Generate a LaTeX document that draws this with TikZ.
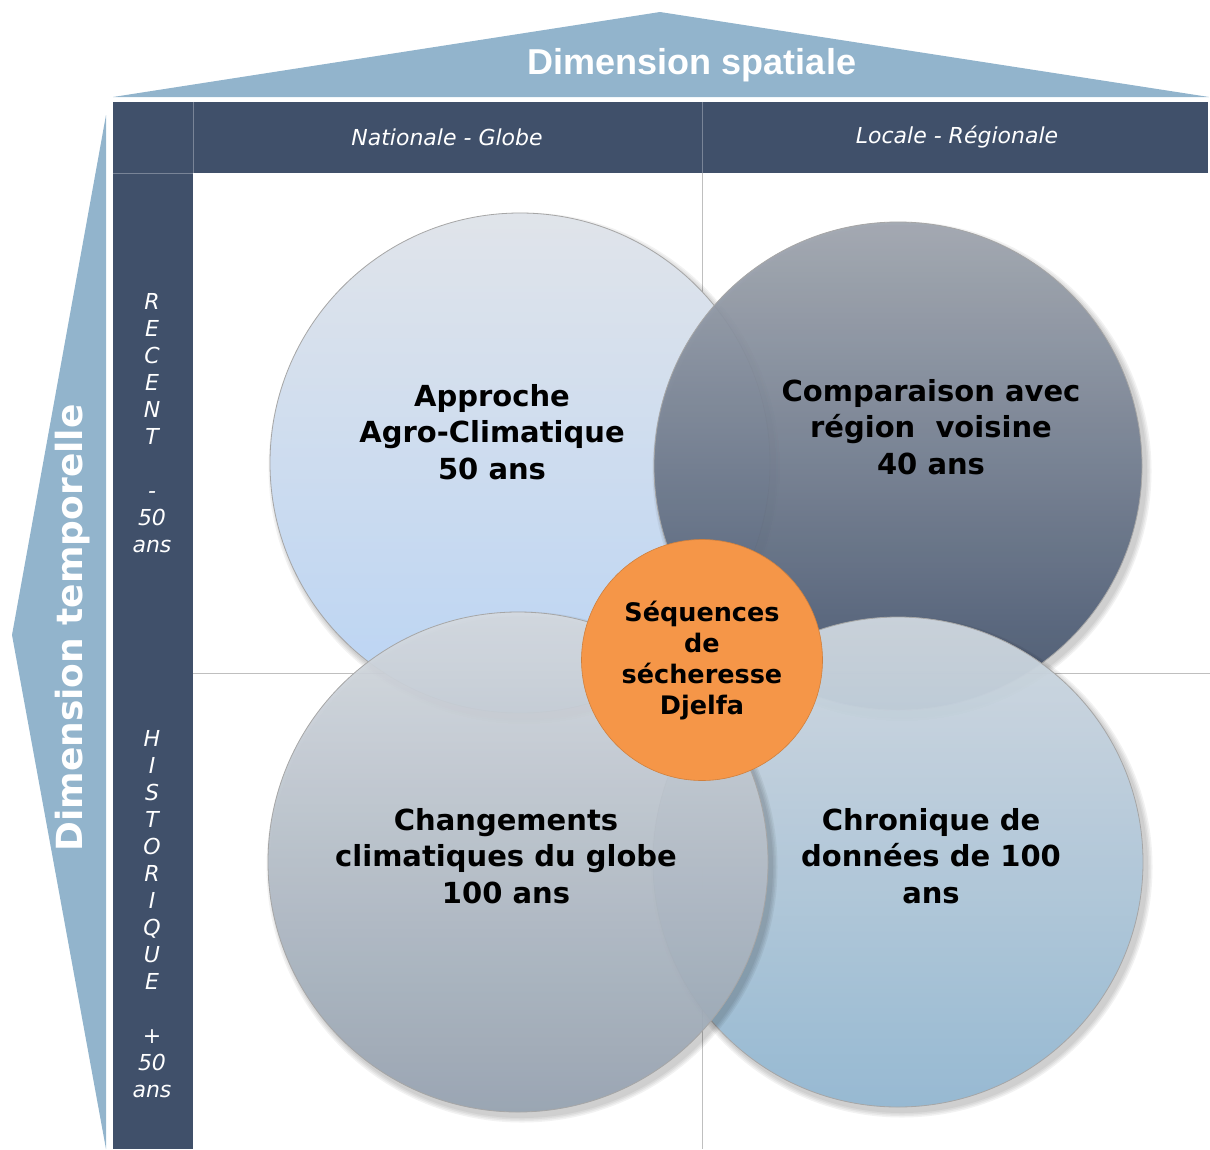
\documentclass[tikz,border=0pt]{standalone}
\usepackage{fontspec}
\setmainfont{DejaVu Sans}
\newfontfamily\arialfont{Liberation Sans}
\usepackage{xcolor}
\usepackage{tikz}
\usetikzlibrary{positioning,calc}
\definecolor{navybar}{RGB}{64,80,106}
\definecolor{dimblue}{RGB}{146,180,204}
\definecolor{agrotop}{RGB}{224,228,234}
\definecolor{agrobot}{RGB}{186,212,244}
\definecolor{comptop}{RGB}{160,166,176}
\definecolor{compbot}{RGB}{66,82,108}
\definecolor{chgtop}{RGB}{214,219,225}
\definecolor{chgbot}{RGB}{150,163,177}
\definecolor{chrtop}{RGB}{208,216,224}
\definecolor{chrbot}{RGB}{148,184,210}
\definecolor{djelfa}{RGB}{245,150,72}
\newcommand{\bulletxt}{\fontsize{29}{36.5}\selectfont\bfseries}
\newcommand{\centretxt}{\fontsize{25.5}{31}\selectfont\bfseries}
\newcommand{\echelletxt}{\fontsize{22}{26}\selectfont\itshape}
\newcommand{\periodetxt}{\fontsize{22}{27}\selectfont\itshape}
\tikzset{
  bulle/.style={
    circle,
    draw=black!35,
    line width=0.8pt,
    inner sep=0pt
  },
  ombre/.style={circle,fill=black,fill opacity=0.05,inner sep=0pt},
  bulletexte/.style={align=center,font=\bulletxt,text=black},
  bandeau/.style={fill=navybar,draw=none},
  separation/.style={draw=navybar!70!white,line width=0.8pt},
  grille/.style={draw=black!25,line width=0.8pt},
  dimfleche/.style={fill=dimblue,draw=none},
  dimtexte/.style={text=white,font=\bfseries},
}

\begin{document}
\begin{tikzpicture}[x=1pt,y=-1pt]
  \useasboundingbox (0,0) rectangle (1210,1149);

  % axes : dimension spatiale et temporelle
  \path[dimfleche] (113,97) -- (660,12) -- (1209,97) -- cycle;
  \path[dimfleche] (106,115) -- (12,635) -- (106,1149) -- cycle;
  \node[dimtexte,font=\arialfont\fontsize{36}{40}\selectfont\bfseries] (spatiale) at (692,65) {Dimension spatiale};
  \node[dimtexte,font=\fontsize{36}{40}\selectfont\bfseries,rotate=90] (temporelle) at (73,628) {Dimension temporelle};

  % bandeaux
  \path[bandeau] (113,102) rectangle (1208,173);
  \path[bandeau] (113,173) rectangle (193,1149);
  \draw[separation] (193,102) -- (193,173);
  \draw[separation] (702,102) -- (702,173);
  \draw[separation] (113,173) -- (193,173);
  \node[text=white,font=\echelletxt] (nationale) at (447,137) {Nationale - Globe};
  \node[text=white,font=\echelletxt] (locale) at (957,137) {Locale - Régionale};
  \node[text=white,font=\periodetxt,align=center] (recent) at (152,423)
    {R\\E\\C\\E\\N\\T\\[27pt]-\\50\\ans};
  \node[text=white,font=\periodetxt,align=center] (historique) at (152,914)
    {H\\I\\S\\T\\O\\R\\I\\Q\\U\\E\\[27pt]+\\50\\ans};

  % grille
  \draw[grille] (702,173) -- (702,1149);
  \draw[grille] (193,673) -- (1210,673);

  % bulles (ombre douce puis disque)
  \foreach \d in {2,5,8,11} {
    \node[ombre,minimum size={500pt+\d pt}] at (524,468) {};
  }
  \node[bulle,minimum size=500pt,top color=agrotop,bottom color=agrobot] (agro) at (520,463) {};
  \foreach \d in {2,5,8,11} {
    \node[ombre,minimum size={488pt+\d pt}] at (902,471) {};
  }
  \node[bulle,minimum size=488pt,top color=comptop,bottom color=compbot,fill opacity=0.93] (comp) at (898,466) {};
  \foreach \d in {2,5,8,11} {
    \node[ombre,minimum size={490pt+\d pt}] at (902,867) {};
  }
  \node[bulle,minimum size=490pt,top color=chrtop,bottom color=chrbot,fill opacity=0.95] (chronique) at (898,862) {};
  \foreach \d in {2,5,8,11} {
    \node[ombre,minimum size={500pt+\d pt}] at (522,867) {};
  }
  \node[bulle,minimum size=500pt,top color=chgtop,bottom color=chgbot,fill opacity=0.93] (changements) at (518,862) {};
  \node[circle,fill=djelfa,draw=djelfa!85!black,line width=0.6pt,minimum size=241pt,inner sep=0pt] (djelfa) at (702,660) {};

  % textes des bulles
  \node[bulletexte] (agrotxt) at (492,432) {Approche\\Agro-Climatique\\50 ans};
  \node[bulletexte] (comptxt) at (931,427) {Comparaison avec\\région\ \ voisine\\40 ans};
  \node[bulletexte] (chgtxt) at (506,856) {Changements\\climatiques du globe\\100 ans};
  \node[bulletexte] (chrtxt) at (931,856) {Chronique de\\données de 100\\ans};
  \node[align=center,font=\centretxt,text=black] (djelfatxt) at (702,661)
    {Séquences\\de\\sécheresse\\Djelfa};
\end{tikzpicture}
\end{document}
